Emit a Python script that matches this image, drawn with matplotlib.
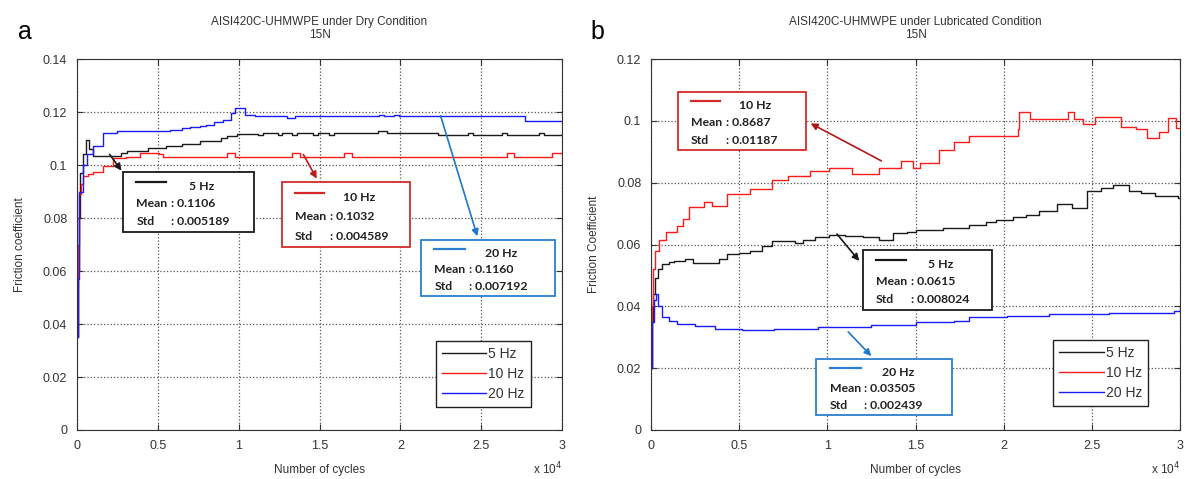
import numpy as np
import matplotlib
matplotlib.use('Agg')
from matplotlib import pyplot as plt
from matplotlib.patches import Rectangle
from matplotlib.ticker import FuncFormatter, MultipleLocator

plt.rcParams['font.family'] = ['Liberation Sans', 'DejaVu Sans']

# dry condition, cycles vs friction coefficient
dry_x_5 = [0, 40, 100, 200, 350, 560, 750, 1000, 2700, 3100, 4400, 5500, 6500, 7600, 8900, 9300,
           9900, 11200, 11500, 12400, 12700, 13300, 13600, 14600, 14900, 15600, 15900, 17000,
           18600, 19200, 20000, 22000, 22300, 24200, 24500, 26300, 26600, 28600, 28900, 30000]
dry_y_5 = [0.035, 0.06, 0.08, 0.097, 0.104, 0.1094, 0.106, 0.1034, 0.1045, 0.1053, 0.1064, 0.1072,
           0.108, 0.109, 0.1102, 0.1109, 0.1117, 0.1112, 0.1120, 0.1112, 0.1120, 0.1112, 0.1120,
           0.1112, 0.1120, 0.1112, 0.1120, 0.1120, 0.1127, 0.1120, 0.1120, 0.1120, 0.1112, 0.1120,
           0.1112, 0.1120, 0.1112, 0.1120, 0.1112, 0.1112]

dry_x_10 = [0, 50, 120, 250, 400, 700, 1000, 1600, 2200, 3000, 3900, 5100, 5300, 6500, 9300, 9800,
            11000, 13300, 13800, 16500, 17000, 20000, 24000, 26600, 27000, 29400, 30000]
dry_y_10 = [0.035, 0.07, 0.089, 0.093, 0.0958, 0.0965, 0.0975, 0.0996, 0.1026, 0.1032, 0.1045,
            0.1040, 0.1032, 0.1032, 0.1046, 0.1032, 0.1032, 0.1046, 0.1032, 0.1046, 0.1032, 0.1032,
            0.1032, 0.1046, 0.1032, 0.1046, 0.1046]

dry_x_20 = [0, 50, 150, 350, 600, 990, 1600, 2500, 5750, 6500, 7000, 7600, 8000, 8500, 9000, 9500,
            9770, 10400, 11000, 13000, 13500, 14000, 18700, 19000, 19600, 19900, 20000, 25000,
            27700, 30000]
dry_y_20 = [0.035, 0.057, 0.09, 0.1, 0.104, 0.107, 0.112, 0.1128, 0.1132, 0.1138, 0.1145, 0.1148,
            0.1152, 0.1164, 0.117, 0.1197, 0.1215, 0.1187, 0.1184, 0.1178, 0.1184, 0.1184, 0.1190,
            0.1184, 0.1190, 0.1184, 0.1184, 0.1184, 0.1166, 0.1166]

# lubricated condition
lub_x_5 = [0, 60, 120, 215, 400, 645, 1000, 1290, 1930, 2360, 3400, 3870, 4300, 5000, 5590, 6300,
           6880, 7500, 8170, 8600, 9300, 10100, 11000, 12000, 12900, 13750, 14500, 15040, 16000,
           16550, 17000, 18050, 19000, 19560, 20500, 21280, 22000, 23000, 23850, 24710, 25500,
           26220, 27080, 27800, 28580, 29870, 30000]
lub_y_5 = [0.02, 0.035, 0.044, 0.0493, 0.052, 0.0536, 0.0542, 0.0546, 0.0552, 0.0541, 0.0541,
           0.0552, 0.0568, 0.0573, 0.0579, 0.0595, 0.0611, 0.0611, 0.0605, 0.0616, 0.0624, 0.0632,
           0.0628, 0.0624, 0.0616, 0.0637, 0.0642, 0.0648, 0.0648, 0.0654, 0.0654, 0.0664, 0.0672,
           0.068, 0.069, 0.0697, 0.0708, 0.073, 0.0719, 0.0773, 0.0782, 0.0792, 0.0773, 0.0765,
           0.0757, 0.0752, 0.0752]

lub_x_10 = [0, 60, 120, 215, 430, 860, 1500, 1830, 2150, 3000, 3440, 4300, 5590, 6880, 7740, 9030,
            10100, 11390, 12900, 14180, 14830, 15260, 16330, 17190, 18050, 20800, 20850, 21500,
            23640, 24000, 24500, 25200, 26650, 27500, 28150, 28800, 29330, 29760, 30000]
lub_y_10 = [0.02, 0.04, 0.052, 0.0578, 0.0613, 0.064, 0.066, 0.0682, 0.072, 0.0736, 0.0725, 0.0762,
            0.0778, 0.081, 0.0821, 0.0837, 0.0848, 0.0827, 0.0848, 0.087, 0.0846, 0.0863, 0.0907,
            0.093, 0.0952, 0.0974, 0.103, 0.1005, 0.103, 0.1005, 0.0991, 0.1013, 0.098, 0.0975,
            0.0946, 0.0963, 0.1008, 0.0977, 0.0977]

lub_x_20 = [0, 60, 150, 260, 400, 645, 1000, 1500, 2500, 3650, 5160, 7000, 9460, 12480, 15040,
            17190, 18050, 20200, 22560, 24500, 26000, 27720, 29660, 30000]
lub_y_20 = [0.02, 0.035, 0.042, 0.044, 0.040, 0.0365, 0.0352, 0.0344, 0.0336, 0.0328, 0.0323,
            0.0328, 0.0333, 0.0339, 0.0349, 0.0354, 0.0365, 0.037, 0.0376, 0.0376, 0.0378, 0.038,
            0.0386, 0.040]

labels = ['5 Hz', '10 Hz', '20 Hz']
colors = ['#1a1a1a', '#ff1a1a', '#1a1aff']

dry_stats = [('0.1106', '0.005189'), ('0.1032', '0.004589'), ('0.1160', '0.007192')]
lub_stats = [('0.0615', '0.008024'), ('0.8687', '0.01187'), ('0.03505', '0.002439')]


def setup(ax, ymax, title, ylabel):
    ax.set_xlim(0, 30000)
    ax.set_ylim(0, ymax)
    ax.xaxis.set_major_locator(MultipleLocator(5000))
    ax.yaxis.set_major_locator(MultipleLocator(0.02))
    ax.xaxis.set_major_formatter(FuncFormatter(lambda v, p: '%g' % (v / 1e4)))
    ax.yaxis.set_major_formatter(FuncFormatter(lambda v, p: '%g' % round(v, 3)))
    ax.tick_params(direction='in', top=True, right=True, length=4, labelsize=9, colors='#333333',
                   pad=7)
    ax.grid(True, linestyle=':', color='#555555', linewidth=0.9)
    for s in ax.spines.values():
        s.set_color('#333333')
    ax.set_title(title + '\n15N', fontsize=8.5, color='#333333', pad=15, linespacing=1.15)
    ax.set_xlabel('Number of cycles', fontsize=8.5, color='#333333', labelpad=9)
    ax.set_ylabel(ylabel, fontsize=8.5, color='#333333', labelpad=12)
    ax.text(1.0, -0.105, r'x 10$^4$', transform=ax.transAxes, ha='right', va='center',
            fontsize=8.5, color='#333333')


def note(ax, box, color, label, stats, tail, head, arrow_color):
    x0, y0, w, h = box
    ax.add_patch(Rectangle((x0, y0), w, h, transform=ax.transAxes, fill=True, facecolor='white',
                           edgecolor=color, linewidth=1.3, zorder=5))
    ax.plot([x0 + 0.1 * w, x0 + 0.33 * w], [y0 + 0.84 * h] * 2, color=color, lw=1.6,
            transform=ax.transAxes, zorder=6, clip_on=False)
    fnt = dict(family='Lato', fontsize=8.8, fontweight='bold', color='#222222', zorder=6,
               va='center')
    ax.text(x0 + 0.6 * w, y0 + 0.76 * h, label, ha='center', transform=ax.transAxes, **fnt)
    ax.text(x0 + 0.1 * w, y0 + 0.47 * h, 'Mean', ha='left', transform=ax.transAxes, **fnt)
    ax.text(x0 + 0.1 * w, y0 + 0.17 * h, 'Std', ha='left', transform=ax.transAxes, **fnt)
    # colons line up like in the original boxes
    for yy, val in [(0.47, stats[0]), (0.17, stats[1])]:
        ax.annotate(': ' + val, xy=(x0 + 0.1 * w, y0 + yy * h), xycoords='axes fraction',
                    xytext=(25, 0), textcoords='offset points', ha='left', **fnt)
    ax.annotate('', xy=head, xytext=tail, xycoords='axes fraction', textcoords='axes fraction',
                arrowprops=dict(arrowstyle='-|>', color=arrow_color, lw=1.2, mutation_scale=10),
                zorder=6)


fig = plt.figure(figsize=(11.85, 4.79), dpi=100)
ax1 = fig.add_axes([0.065, 0.1023, 0.4093, 0.7745])
ax2 = fig.add_axes([0.5494, 0.1023, 0.4464, 0.7745])

for xs, ys, lab, c in zip([dry_x_5, dry_x_10, dry_x_20], [dry_y_5, dry_y_10, dry_y_20], labels, colors):
    ax1.plot(xs, ys, drawstyle='steps-post', color=c, lw=1.0, label=lab)
for xs, ys, lab, c in zip([lub_x_5, lub_x_10, lub_x_20], [lub_y_5, lub_y_10, lub_y_20], labels, colors):
    ax2.plot(xs, ys, drawstyle='steps-post', color=c, lw=1.0, label=lab)

setup(ax1, 0.14, 'AISI420C-UHMWPE under Dry Condition', 'Friction coefficient')
setup(ax2, 0.12, 'AISI420C-UHMWPE under Lubricated Condition', 'Friction Coefficient')

for ax, anchor in [(ax1, (0.936, 0.062)), (ax2, (0.940, 0.065))]:
    lg = ax.legend(loc='lower right', bbox_to_anchor=anchor, fontsize=10, handlelength=3.2,
                   fancybox=False, edgecolor='#222222', framealpha=1, borderpad=0.45,
                   labelspacing=0.42, handletextpad=0.15, borderaxespad=0)
    lg.get_frame().set_linewidth(1.0)
    for t in lg.get_texts():
        t.set_color('#333333')

# annotation boxes, left
note(ax1, (0.095, 0.534, 0.270, 0.161), '#1a1a1a', '5 Hz', dry_stats[0],
     (0.064, 0.749), (0.095, 0.693), '#1a1a1a')
note(ax1, (0.423, 0.493, 0.264, 0.175), '#d42a2a', '10 Hz', dry_stats[1],
     (0.464, 0.749), (0.497, 0.671), '#c01818')
note(ax1, (0.709, 0.361, 0.277, 0.151), '#2a7fd0', '20 Hz', dry_stats[2],
     (0.748, 0.854), (0.827, 0.515), '#1f78c8')

# annotation boxes, right
note(ax2, (0.051, 0.755, 0.242, 0.156), '#d42a2a', '10 Hz', lub_stats[1],
     (0.440, 0.722), (0.297, 0.830), '#b01818')
note(ax2, (0.401, 0.323, 0.244, 0.162), '#1a1a1a', '5 Hz', lub_stats[0],
     (0.348, 0.534), (0.397, 0.450), '#1a1a1a')
note(ax2, (0.312, 0.040, 0.257, 0.151), '#2a7fd0', '20 Hz', lub_stats[2],
     (0.369, 0.270), (0.420, 0.194), '#1f78c8')

fig.text(18 / 1185, 1 - 32 / 479, 'a', fontsize=18, va='center', ha='left')
fig.text(590 / 1185, 1 - 32 / 479, 'b', fontsize=18, va='center', ha='left')

fig.savefig('out.png', dpi=100)
